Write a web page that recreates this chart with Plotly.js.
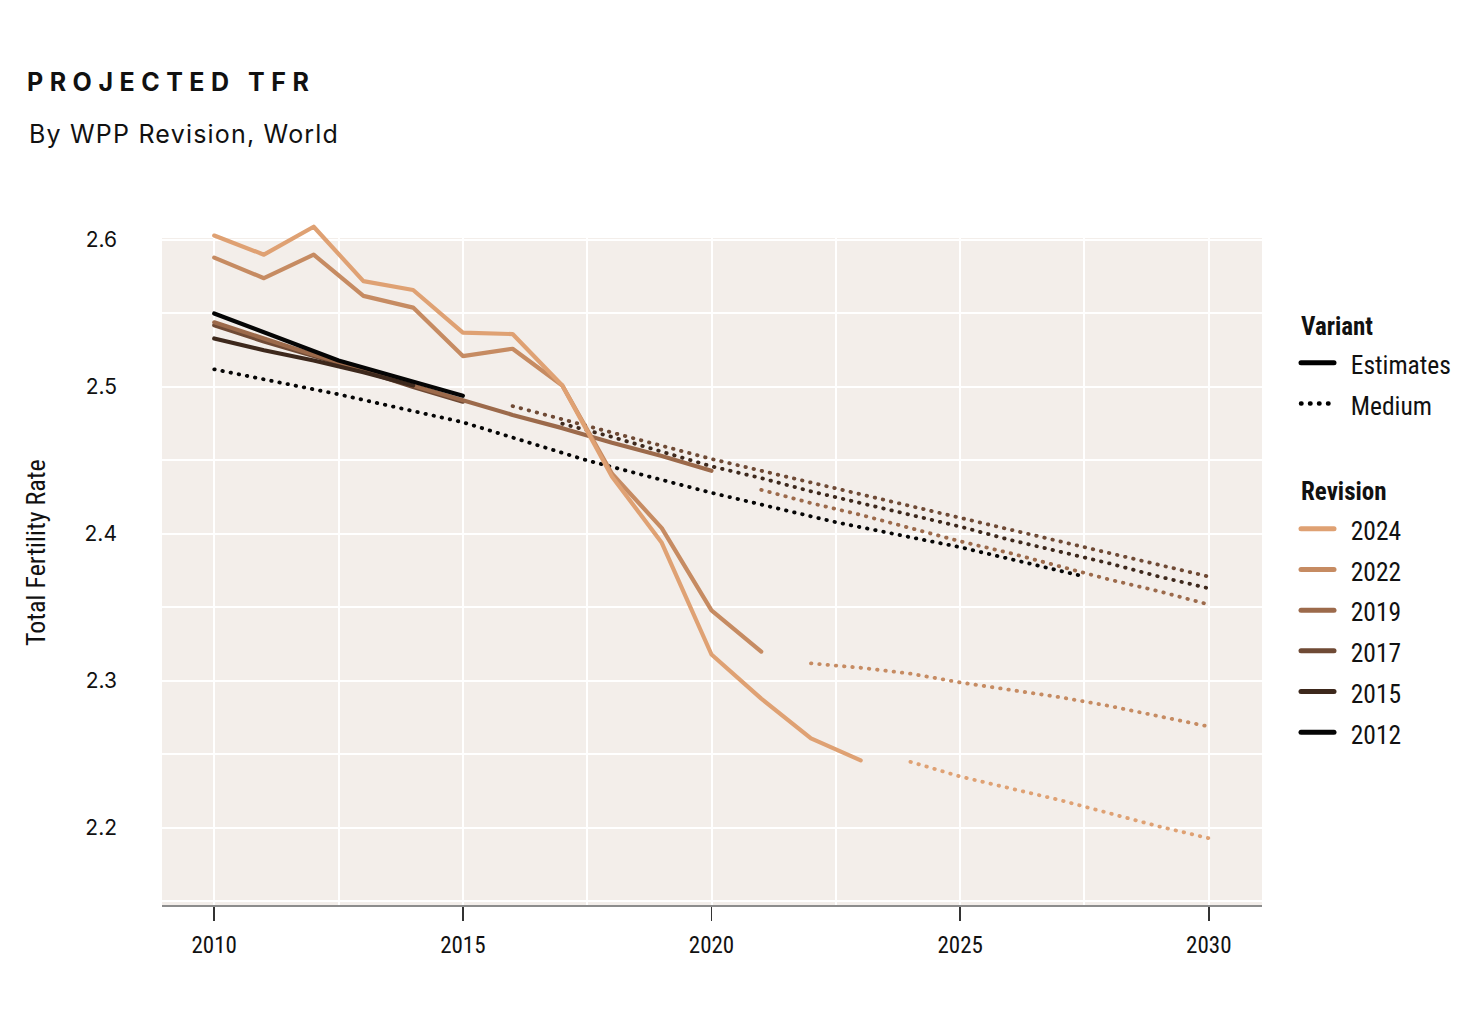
<!DOCTYPE html>
<html>
<head>
<meta charset="utf-8">
<script src="https://cdn.plot.ly/plotly-3.0.1.min.js"></script>
<style>
  html, body { margin: 0; padding: 0; background: #ffffff; }
  #chart { width: 1476px; height: 1017px; }
  .gtitle { letter-spacing: 6.5px; }
  .annotation-text.subtitle-text { letter-spacing: 1.2px; }
  .js-line { stroke-linecap: round; stroke-linejoin: round; }
</style>
</head>
<body>
<div id="chart"></div>
<script>
// ---------- DATA ----------
const revisions = ["2024", "2022", "2019", "2017", "2015", "2012"];
const revisionColors = {"2024": "#DFA173", "2022": "#C68B62", "2019": "#9C6A4B", "2017": "#6F4A35", "2015": "#3D281C", "2012": "#050505"};

// Estimates
const est2024Years = [2010, 2011, 2012, 2013, 2014, 2015, 2016, 2017, 2018, 2019, 2020, 2021, 2022, 2023];
const est2024Values = [2.603, 2.590, 2.609, 2.572, 2.566, 2.537, 2.536, 2.501, 2.439, 2.394, 2.318, 2.288, 2.261, 2.246];

const est2022Years = [2010, 2011, 2012, 2013, 2014, 2015, 2016, 2017, 2018, 2019, 2020, 2021];
const est2022Values = [2.588, 2.574, 2.590, 2.562, 2.554, 2.521, 2.526, 2.501, 2.441, 2.404, 2.348, 2.320];

const est2019Years = [2010, 2011, 2012, 2013, 2014, 2015, 2016, 2017, 2018, 2019, 2020];
const est2019Values = [2.544, 2.533, 2.522, 2.512, 2.501, 2.491, 2.481, 2.472, 2.462, 2.453, 2.443];

const est2017Years = [2010, 2011, 2012, 2013, 2014, 2015];
const est2017Values = [2.542, 2.531, 2.521, 2.511, 2.500, 2.490];

const est2015Years = [2010, 2011, 2012, 2013, 2014];
const est2015Values = [2.533, 2.525, 2.518, 2.510, 2.501];

const est2012Years = [2010, 2012.5, 2015];
const est2012Values = [2.550, 2.518, 2.494];

// Medium variant projections
const med2024Years = [2024, 2025, 2026, 2027, 2028, 2029, 2030];
const med2024Values = [2.245, 2.235, 2.227, 2.219, 2.210, 2.201, 2.193];

const med2022Years = [2022, 2023, 2024, 2025, 2026, 2027, 2028, 2029, 2030];
const med2022Values = [2.312, 2.309, 2.305, 2.299, 2.294, 2.289, 2.283, 2.276, 2.269];

const med2019Years = [2021, 2022, 2023, 2024, 2025, 2026, 2027, 2028, 2029, 2030];
const med2019Values = [2.430, 2.421, 2.413, 2.404, 2.395, 2.387, 2.378, 2.369, 2.361, 2.352];

const med2017Years = [2016, 2017, 2018, 2019, 2020, 2021, 2022, 2023, 2024, 2025, 2026, 2027, 2028, 2029, 2030];
const med2017Values = [2.487, 2.478, 2.469, 2.460, 2.451, 2.443, 2.435, 2.427, 2.419, 2.411, 2.403, 2.395, 2.387, 2.379, 2.371];

const med2015Years = [2017, 2018, 2019, 2020, 2021, 2022, 2023, 2024, 2025, 2026, 2027, 2028, 2029, 2030];
const med2015Values = [2.475, 2.466, 2.456, 2.446, 2.438, 2.429, 2.421, 2.413, 2.405, 2.396, 2.388, 2.380, 2.371, 2.363];

const med2012Years = [2010, 2012.5, 2015, 2017.5, 2020, 2022.5, 2025, 2027.5];
const med2012Values = [2.512, 2.495, 2.476, 2.450, 2.428, 2.408, 2.391, 2.371];

const xTickVals = [2010, 2015, 2020, 2025, 2030];
const yTickVals = [2.2, 2.3, 2.4, 2.5, 2.6];

// ---------- STYLE ----------
const condensed = "'Liberation Sans Narrow', 'Roboto Condensed', Roboto, sans-serif";
const mainFont = "Inter, 'Open Sans', sans-serif";
const EST_W = 4.2;
const MED_W = 3.8;
const DOT = "0.5px,7.8px";

const Y_MIN = 2.1476, Y_TOP_BG = 2.6014, Y_MAX = 2.6204;
const X_MIN = 2008.95, X_MAX = 2031.07;

function est(x, y, rev) {
  return {x: x, y: y, type: "scatter", mode: "lines", showlegend: false, hoverinfo: "skip",
          line: {color: revisionColors[rev], width: EST_W, shape: "linear"}};
}
function med(x, y, rev) {
  return {x: x, y: y, type: "scatter", mode: "lines", showlegend: false, hoverinfo: "skip",
          line: {color: revisionColors[rev], width: MED_W, dash: DOT}};
}

const traces = [
  med(med2012Years, med2012Values, "2012"),
  med(med2015Years, med2015Values, "2015"),
  med(med2017Years, med2017Values, "2017"),
  med(med2019Years, med2019Values, "2019"),
  med(med2022Years, med2022Values, "2022"),
  med(med2024Years, med2024Values, "2024"),
  est(est2017Years, est2017Values, "2017"),
  est(est2019Years, est2019Values, "2019"),
  est(est2015Years, est2015Values, "2015"),
  est(est2012Years, est2012Values, "2012"),
  est(est2022Years, est2022Values, "2022"),
  est(est2024Years, est2024Values, "2024")
];

function lg(label) { return '<span style="font-size:25.5px">&nbsp;&nbsp;' + label + '</span>'; }

// Legend entries
traces.push({x: [null], y: [null], type: "scatter", mode: "lines", name: lg("Estimates"),
  legendgroup: "variant", legendgrouptitle: {text: "<b>Variant</b>"},
  line: {color: "#000000", width: 5}, hoverinfo: "skip"});
traces.push({x: [null], y: [null], type: "scatter", mode: "lines", name: lg("Medium"),
  legendgroup: "variant", line: {color: "#000000", width: 4.5, dash: "0.5px,8.5px"}, hoverinfo: "skip"});
revisions.forEach(function (rev, i) {
  const t = {x: [null], y: [null], type: "scatter", mode: "lines", name: lg(rev),
    legendgroup: "revision", line: {color: revisionColors[rev], width: 5}, hoverinfo: "skip"};
  if (i === 0) t.legendgrouptitle = {text: "<b>Revision</b>"};
  traces.push(t);
});

// ---------- LAYOUT ----------
const layout = {
  width: 1476, height: 1017,
  margin: {l: 162, r: 214, t: 210, b: 112, pad: 0},
  paper_bgcolor: "#ffffff",
  plot_bgcolor: "#ffffff",
  font: {family: mainFont, color: "#111111", size: 22},
  title: {
    text: "<b>PROJECTED TFR</b>",
    x: 27 / 1476, xanchor: "left", xref: "container",
    y: 1 - 82 / 1017, yanchor: "middle", yref: "container",
    font: {family: mainFont, size: 25, color: "#111111"}
  },
  shapes: [
    {type: "rect", layer: "below", xref: "paper", yref: "y",
     x0: 0, x1: 1, y0: Y_MIN, y1: Y_TOP_BG, fillcolor: "#F3EEEA", line: {width: 0}}
  ],
  xaxis: {
    range: [X_MIN, X_MAX],
    tickmode: "array", tickvals: xTickVals, ticktext: xTickVals.map(String),
    showgrid: true, gridcolor: "#ffffff", gridwidth: 2,
    minor: {tickmode: "array", tickvals: [2012.5, 2017.5, 2022.5, 2027.5], showgrid: true, gridcolor: "#ffffff", gridwidth: 2, ticks: ""},
    zeroline: false,
    showline: true, linecolor: "#8c8c8c", linewidth: 2,
    ticks: "outside", ticklen: 14, tickwidth: 1.5, tickcolor: "#333333",
    ticklabelstandoff: 4,
    tickfont: {family: condensed, size: 23, color: "#111111"}
  },
  yaxis: {
    range: [Y_MIN, Y_MAX],
    tickmode: "array", tickvals: yTickVals, ticktext: yTickVals.map(v => v.toFixed(1)),
    showgrid: true, gridcolor: "#ffffff", gridwidth: 2,
    minor: {tickmode: "array", tickvals: [2.15, 2.25, 2.35, 2.45, 2.55], showgrid: true, gridcolor: "#ffffff", gridwidth: 2, ticks: ""},
    zeroline: false, showline: false, ticks: "",
    ticklabelstandoff: 44,
    tickfont: {family: mainFont, size: 21, color: "#111111"}
  },
  legend: {
    x: (1296 - 162) / 1100, xanchor: "left",
    y: 1 - (302 - 210) / 695, yanchor: "top",
    bgcolor: "rgba(0,0,0,0)",
    font: {family: condensed, size: 29, color: "#111111"},
    grouptitlefont: {family: condensed, size: 25, color: "#111111"},
    traceorder: "grouped",
    tracegroupgap: 49,
    itemwidth: 33
  },
  annotations: [
    {text: "By WPP Revision, World", xref: "paper", yref: "paper", align: "left",
     x: (27 - 162) / 1100, xanchor: "left", y: 1 + (210 - 134) / 695, yanchor: "middle",
     showarrow: false, font: {family: mainFont, size: 25, color: "#111111"}},
    {text: "Total Fertility Rate", xref: "paper", yref: "paper",
     x: (36 - 162) / 1100, xanchor: "center", y: (905 - 553) / 695, yanchor: "middle",
     textangle: -90, showarrow: false, font: {family: condensed, size: 26, color: "#111111"}}
  ]
};

Plotly.newPlot("chart", traces, layout, {displayModeBar: false, staticPlot: true}).then(function () {
  const ann = document.querySelectorAll(".annotation-text");
  if (ann.length) ann[0].classList.add("subtitle-text");
});
</script>
</body>
</html>
